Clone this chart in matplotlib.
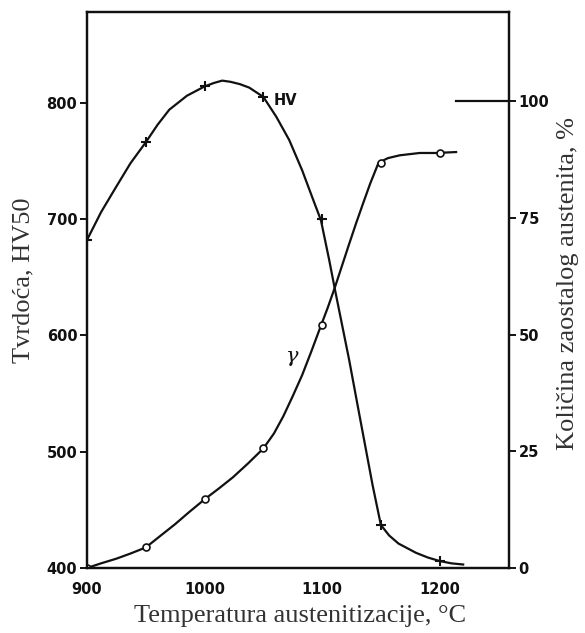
import numpy as np
import matplotlib
matplotlib.use("Agg")
import matplotlib.pyplot as plt

# measured points (markers)
temp_pts = [900, 950, 1000, 1050, 1100, 1150, 1200]
hv_pts = [682, 766, 814, 805, 700, 437, 406]
gamma_pts = [0, 4.4, 14.7, 25.7, 52, 86.8, 89]

# curve traces
hv_curve_t = [900, 912, 925, 937, 950, 960, 970, 985, 1000, 1008, 1015, 1022, 1030,
              1038, 1050, 1061, 1072, 1083, 1093, 1099, 1106, 1111, 1123, 1130, 1143,
              1150, 1157, 1165, 1180, 1190, 1200, 1210, 1220]
hv_curve = [682, 706, 728, 748, 766, 781, 794, 806, 814, 817, 819, 818, 816,
            813, 805, 788, 768, 742, 715, 699, 665, 639, 579, 541, 471,
            437, 428, 421, 413, 409, 406, 404, 403]
gamma_curve_t = [900, 912, 925, 937, 950, 962, 975, 987, 1000, 1012, 1024, 1037, 1050,
                 1059, 1067, 1075, 1083, 1091, 1099, 1105, 1111, 1117, 1123, 1129,
                 1135, 1141, 1148, 1156, 1166, 1183, 1197, 1214]
gamma_curve = [0, 1, 2, 3.1, 4.4, 6.8, 9.4, 12, 14.7, 17, 19.4, 22.4, 25.6,
               28.8, 32.5, 36.8, 41.3, 46.5, 51.9, 55.9, 60.2, 64.8, 69.4, 73.9,
               78.2, 82.4, 86.8, 87.8, 88.4, 88.9, 88.9, 89.1]
ref_line_t = [1214, 1260]
ref_line = [100, 100]

hv_ticks = [400, 500, 600, 700, 800]
gamma_ticks = [0, 25, 50, 75, 100]
temp_ticks = [900, 1000, 1100, 1200]

ink = "#111111"
fig = plt.figure(figsize=(5.85, 6.33), dpi=100)
ax = fig.add_axes([87/585, 1-568/633, (509-87)/585, (568-12)/633])
ax2 = ax.twinx()

ax.plot(hv_curve_t, hv_curve, color=ink, lw=1.6, solid_joinstyle="round")
ax.plot(temp_pts, hv_pts, ls="none", marker="+", ms=7, mew=1.5, color=ink)
ax2.plot(gamma_curve_t, gamma_curve, color=ink, lw=1.6, solid_joinstyle="round")
ax2.plot(temp_pts, gamma_pts, ls="none", marker="o", ms=5, mew=1.2,
         mfc="white", mec=ink)
ax2.plot(ref_line_t, ref_line, color=ink, lw=1.6)

ax.set_xlim(900, 1259)
ax.set_ylim(400, 878)
ax2.set_ylim(0, 119.1)

ax.set_xticks(temp_ticks)
ax.set_yticks(hv_ticks)
ax2.set_yticks(gamma_ticks)
ax.tick_params(axis="x", length=0, pad=10)
ax.tick_params(axis="y", direction="out", length=5, width=1.3, pad=2)
ax2.tick_params(axis="y", direction="out", length=5, width=1.3, pad=2)
for lab in ax.get_xticklabels() + ax.get_yticklabels() + ax2.get_yticklabels():
    lab.set_fontweight("bold")
    lab.set_fontsize(10.5)
    lab.set_color(ink)
for a in (ax, ax2):
    for s in a.spines.values():
        s.set_linewidth(1.6)
        s.set_color(ink)

ax.text(1059, 802, "HV", fontsize=10.5, fontweight="bold", ha="left", va="center", color=ink)
ax.text(1075, 582, "γ", fontsize=15, family="DejaVu Serif", fontstyle="italic",
        ha="center", va="center", color=ink)

serif = "Liberation Serif"
fig.text(300/585, 1-616/633, "Temperatura austenitizacije, °C", family=serif,
         fontsize=19, ha="center", va="center", color="#333333")
fig.text(23/585, 1-280/633, "Tvrdoća, HV50", family=serif, fontsize=19,
         rotation=90, ha="center", va="center", color="#333333")
fig.text(568/585, 1-283/633, "Količina zaostalog austenita, %", family=serif,
         fontsize=19, rotation=90, ha="center", va="center", color="#333333")

fig.savefig("out.png", dpi=100)
